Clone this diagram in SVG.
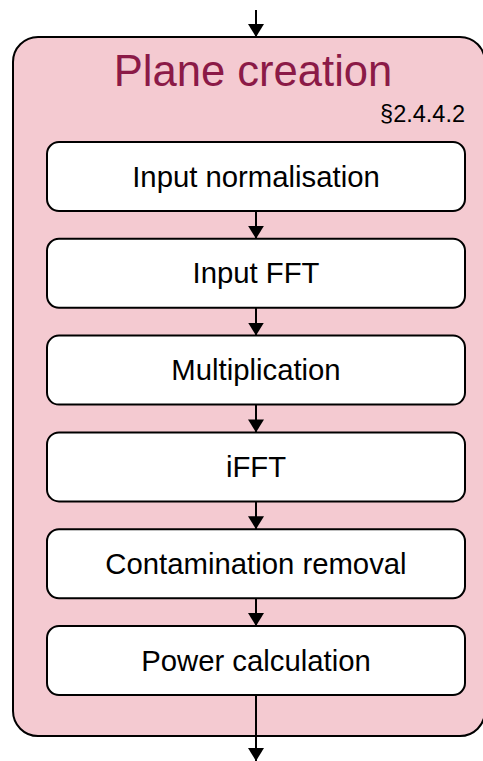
<svg xmlns="http://www.w3.org/2000/svg" width="483" height="761" viewBox="0 0 483 761">
<defs>
<marker id="ah" markerWidth="13" markerHeight="16" refX="13" refY="8" orient="auto" markerUnits="userSpaceOnUse" viewBox="0 0 13 16">
<path d="M0,0 L13,8 L0,16 Z" fill="#000"/>
</marker>
<style>
.box{fill:#fff;stroke:#000;stroke-width:2}
.lbl{font-family:"Liberation Sans",Arial,sans-serif;font-size:29.3px;fill:#000;text-anchor:middle}
.con{stroke:#000;stroke-width:2;fill:none}
</style>
</defs>
<rect width="483" height="761" fill="#fff"/>
<g id="container">
<rect x="13" y="37" width="472" height="699" rx="25" ry="25" fill="#f4cad1" stroke="#000" stroke-width="2"/>
<text x="253" y="86" font-family="'Liberation Sans',Arial,sans-serif" font-size="43.6" fill="#8b1a47" text-anchor="middle">Plane creation</text>
<text x="465" y="122" font-family="'Liberation Sans',Arial,sans-serif" font-size="23.5" fill="#000" text-anchor="end">§2.4.4.2</text>
</g>
<g id="n1"><rect class="box" x="47" y="142" width="418" height="69" rx="12"/><text class="lbl" x="256" y="186.5">Input normalisation</text></g>
<g id="n2"><rect class="box" x="47" y="238.8" width="418" height="69" rx="12"/><text class="lbl" x="256" y="283.3">Input FFT</text></g>
<g id="n3"><rect class="box" x="47" y="335.6" width="418" height="69" rx="12"/><text class="lbl" x="256" y="380.1">Multiplication</text></g>
<g id="n4"><rect class="box" x="47" y="432.4" width="418" height="69" rx="12"/><text class="lbl" x="256" y="476.9">iFFT</text></g>
<g id="n5"><rect class="box" x="47" y="529.2" width="418" height="69" rx="12"/><text class="lbl" x="256" y="573.7">Contamination removal</text></g>
<g id="n6"><rect class="box" x="47" y="626" width="418" height="69" rx="12"/><text class="lbl" x="256" y="670.5">Power calculation</text></g>
<g id="connectors">
<line class="con" x1="256" y1="10" x2="256" y2="37" marker-end="url(#ah)"/>
<line class="con" x1="256" y1="211" x2="256" y2="238.8" marker-end="url(#ah)"/>
<line class="con" x1="256" y1="307.8" x2="256" y2="335.6" marker-end="url(#ah)"/>
<line class="con" x1="256" y1="404.6" x2="256" y2="432.4" marker-end="url(#ah)"/>
<line class="con" x1="256" y1="501.4" x2="256" y2="529.2" marker-end="url(#ah)"/>
<line class="con" x1="256" y1="598.2" x2="256" y2="626" marker-end="url(#ah)"/>
<line class="con" x1="256" y1="695" x2="256" y2="761" marker-end="url(#ah)"/>
</g>
</svg>
